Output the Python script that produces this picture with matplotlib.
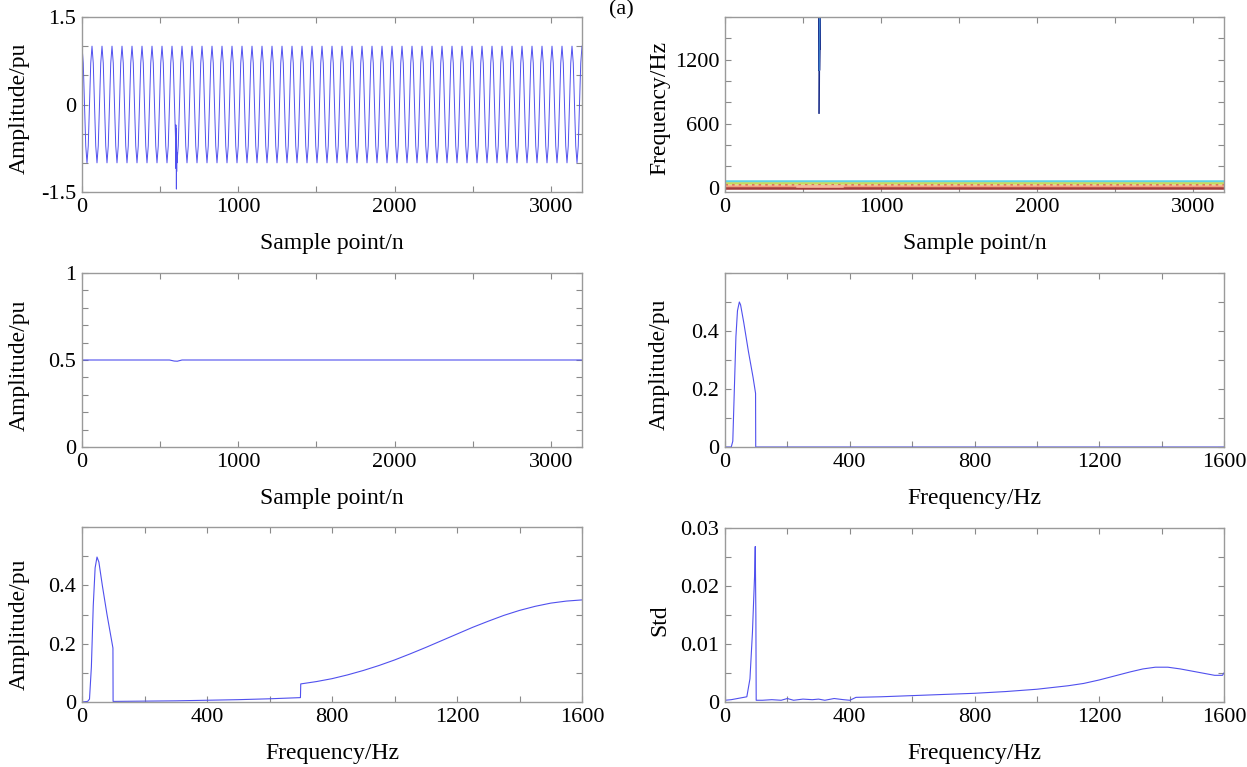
import numpy as np
import matplotlib
matplotlib.use('Agg')
import matplotlib.pyplot as plt
from matplotlib.ticker import MultipleLocator, FuncFormatter

plt.rcParams['font.family'] = ['Liberation Serif', 'DejaVu Serif']
plt.rcParams['font.size'] = 16
plt.rcParams['axes.unicode_minus'] = False

# ---- data ----
# top left: 50 Hz signal, one cycle sampled every 8 points (64 samples / cycle)
cycle_shape = [1.0, 0.71, 0.0, -0.71, -1.0, -0.71, 0.0, 0.71]
n_cycles = 50
step = 8
# transient near sample 600
transient_n = [600, 601, 602, 603, 604, 605, 606, 607, 608]
transient_v = [-0.71, -0.35, -1.10, -0.42, -1.45, -0.60, -1.15, -0.82, -1.0]

# top right: instantaneous frequency of the components
imf_freq = [60, 42, 22, 12, 0]
imf_colors = ['#5cd3e6', '#c9d85a', '#d9534f', '#f2a07b', '#a33a3a']
imf_styles = ['-', '-', ':', '-', '-']
patch_n = [460, 750]
patch_f = [14, 14]
spike_n = [603, 604, 606, 605, 607, 606]
spike_f = [700, 1000, 1600, 1100, 1600, 1300]

# middle left: amplitude envelope
env_n = [0, 560, 590, 610, 640, 3200]
env_a = [0.5, 0.5, 0.494, 0.493, 0.5, 0.5]

# middle right: spectrum
spec_f = [0, 20, 25, 30, 35, 40, 46, 50, 60, 75, 90, 98, 98.5, 1600]
spec_a = [0, 0, 0.02, 0.2, 0.38, 0.47, 0.5, 0.49, 0.43, 0.33, 0.24, 0.185, 0, 0]

# bottom left: spectrum with transient part
spec2_f = [0, 18, 24, 30, 36, 42, 48, 54, 65, 80, 99, 99.5, 200, 300, 400, 500,
           600, 699, 700, 750, 800, 850, 900, 950, 1000, 1050, 1100, 1150, 1200,
           1250, 1300, 1350, 1400, 1450, 1500, 1550, 1600]
spec2_a = [0, 0.002, 0.01, 0.12, 0.33, 0.46, 0.497, 0.48, 0.40, 0.30, 0.185, 0.002,
           0.003, 0.004, 0.006, 0.008, 0.011, 0.015, 0.062, 0.07, 0.08, 0.093,
           0.108, 0.125, 0.144, 0.165, 0.187, 0.21, 0.233, 0.256, 0.277, 0.297,
           0.314, 0.328, 0.339, 0.346, 0.35]

# bottom right: standard deviation
std_f = [0, 20, 40, 60, 70, 80, 88, 95, 97, 99, 100, 120, 150, 180, 200, 220, 250,
         280, 300, 320, 350, 380, 400, 420, 500, 600, 700, 800, 900, 1000, 1050,
         1100, 1150, 1200, 1250, 1300, 1340, 1380, 1420, 1460, 1500, 1540, 1570,
         1595, 1600]
std_v = [0.0003, 0.0004, 0.0006, 0.0008, 0.0009, 0.004, 0.012, 0.022, 0.0268,
         0.015, 0.0003, 0.0003, 0.0004, 0.0003, 0.0006, 0.0003, 0.0005, 0.0004,
         0.0005, 0.0003, 0.0006, 0.0004, 0.0003, 0.0008, 0.0009, 0.0011, 0.0013,
         0.0015, 0.0018, 0.0022, 0.0025, 0.0028, 0.0032, 0.0038, 0.0045, 0.0052,
         0.0057, 0.006, 0.006, 0.0057, 0.0053, 0.0049, 0.0046, 0.0046, 0.005]

line_color = '#5050ee'
W, H = 1247, 767


def make_ax(fig, x0, x1, y0, y1):
    return fig.add_axes([x0 / W, 1 - y1 / H, (x1 - x0) / W, (y1 - y0) / H])


def style(ax, xstep, xlabs, ystep, ylabs, xlim, ylim, xlabel, ylabel, ylab_x, ylab_y=0.5):
    ax.set_xlim(*xlim)
    ax.set_ylim(*ylim)
    ax.xaxis.set_major_locator(MultipleLocator(xstep))
    ax.yaxis.set_major_locator(MultipleLocator(ystep))

    def fmt(labs):
        def f(v, pos):
            for l in labs:
                if abs(v - l) < 1e-9 * max(1, abs(l)):
                    return '{:g}'.format(l)
            return ''
        return FuncFormatter(f)
    ax.xaxis.set_major_formatter(fmt(xlabs))
    ax.yaxis.set_major_formatter(fmt(ylabs))
    ax.tick_params(direction='in', top=True, right=True, length=4, width=0.8,
                   color='#8a8a8a', pad=4, labelsize=16)
    for s in ax.spines.values():
        s.set_color('#9a9a9a')
        s.set_linewidth(1.0)
    ax.set_xlabel(xlabel, fontsize=17)
    ax.set_ylabel(ylabel, fontsize=17)
    ax.xaxis.set_label_coords(0.5, -0.237)
    ax.yaxis.set_label_coords(ylab_x, ylab_y)


fig = plt.figure(figsize=(12.47, 7.67), dpi=100)

# top left
ax1 = make_ax(fig, 82, 582, 17, 192)
base_v = np.tile(cycle_shape, n_cycles).tolist() + [cycle_shape[0]]
base_n = list(range(0, n_cycles * len(cycle_shape) * step + 1, step))
sig_n = [n for n in base_n if n < transient_n[0]] + transient_n + \
        [n for n in base_n if n > transient_n[-1]]
sig_v = [v for n, v in zip(base_n, base_v) if n < transient_n[0]] + transient_v + \
        [v for n, v in zip(base_n, base_v) if n > transient_n[-1]]
ax1.plot(sig_n, sig_v, color=line_color, lw=0.7)
style(ax1, 500, [0, 1000, 2000, 3000], 0.5, [-1.5, 0, 1.5], (0, 3200), (-1.5, 1.5),
      'Sample point/n', 'Amplitude/pu', -0.104, 0.477)

# top right
ax2 = make_ax(fig, 725, 1224, 17, 192)
for f, c, ls in zip(imf_freq, imf_colors, imf_styles):
    ax2.plot([0, 3200], [f, f], color=c, lw=1.8, ls=ls)
ax2.plot(patch_n, patch_f, color='#f5b89a', lw=1.8)
ax2.plot(spike_n, spike_f, color='#1c2f8a', lw=1.2)
ax2.plot(spike_n[2:], spike_f[2:], color='#3a7ac8', lw=0.8)
style(ax2, 500, [0, 1000, 2000, 3000], 200, [0, 600, 1200], (0, 3200), (-40, 1600),
      'Sample point/n', 'Frequency/Hz', -0.11, 0.48)

# middle left
ax3 = make_ax(fig, 82, 582, 273, 447)
ax3.plot(env_n, env_a, color=line_color, lw=0.8)
style(ax3, 500, [0, 1000, 2000, 3000], 0.1, [0, 0.5, 1], (0, 3200), (0, 1),
      'Sample point/n', 'Amplitude/pu', -0.104, 0.471)

# middle right
ax4 = make_ax(fig, 725, 1224, 273, 447)
ax4.plot(spec_f, spec_a, color=line_color, lw=0.8)
style(ax4, 200, [0, 400, 800, 1200, 1600], 0.1, [0, 0.2, 0.4], (0, 1600), (0, 0.6),
      'Frequency/Hz', 'Amplitude/pu', -0.11, 0.474)

# bottom left
ax5 = make_ax(fig, 82, 582, 527, 702)
ax5.plot(spec2_f, spec2_a, color=line_color, lw=0.8)
style(ax5, 200, [0, 400, 800, 1200, 1600], 0.1, [0, 0.2, 0.4], (0, 1600), (0, 0.6),
      'Frequency/Hz', 'Amplitude/pu', -0.104, 0.446)

# bottom right
ax6 = make_ax(fig, 725, 1224, 528, 702)
ax6.plot(std_f, std_v, color=line_color, lw=0.8)
style(ax6, 200, [0, 400, 800, 1200, 1600], 0.005, [0, 0.01, 0.02, 0.03], (0, 1600),
      (0, 0.03), 'Frequency/Hz', 'Std', -0.11, 0.47)

fig.text(0.498, 1.0, '(a)', ha='center', va='top', fontsize=16)

fig.savefig('out.png', dpi=100)
